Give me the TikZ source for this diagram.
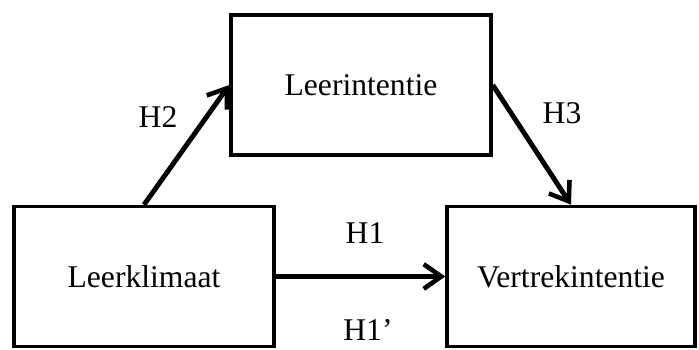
\documentclass[tikz,border=0pt]{standalone}
\usepackage{fontspec}
\setmainfont{Liberation Serif}
\usetikzlibrary{arrows.meta}
\tikzset{
  blok/.style={draw,line width=2pt,minimum width=5.2cm,minimum height=2.8cm,inner sep=0pt,font=\fontsize{18}{20}\selectfont},
  pijl/.style={line width=2.8pt,-{Straight Barb[length=10pt,width=14pt,line width=2.6pt]}},
  hyp/.style={font=\fontsize{18}{20}\selectfont}
}
\begin{document}
\begin{tikzpicture}[x=0.02cm,y=0.02cm]
\useasboundingbox (0,0) rectangle (699,350);
\node[blok] (intentie) at (361,265) {Leerintentie};
\node[blok] (klimaat) at (144,73.5) {Leerklimaat};
\node[blok,minimum width=4.96cm] (vertrek) at (571,73.5) {Vertrekintentie};
\draw[pijl] (klimaat.north) -- (intentie.west);
\draw[pijl] (intentie.east) -- (vertrek.north);
\draw[pijl] (klimaat.east) -- (vertrek.west);
\node[hyp] (h2) at (158,233) {H2};
\node[hyp] (h3) at (562,237) {H3};
\node[hyp] (h1) at (365,117) {H1};
\node[hyp] (h1b) at (368,20) {H1’};
\end{tikzpicture}
\end{document}
